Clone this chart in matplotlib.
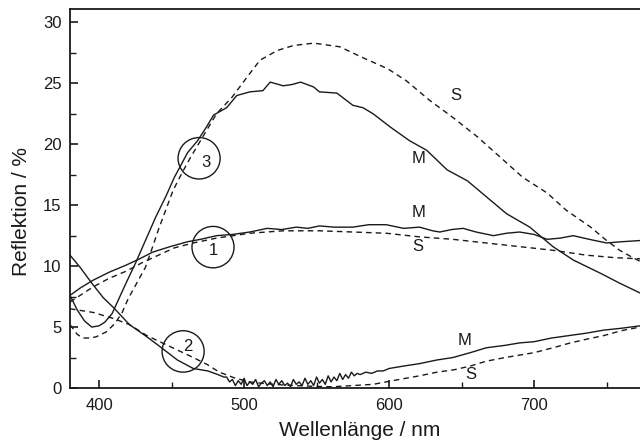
import matplotlib
matplotlib.use("Agg")
import matplotlib.pyplot as plt
from matplotlib.patches import Ellipse

plt.rcParams['font.family'] = ['Liberation Sans', 'DejaVu Sans']

# Curve 1 (M solid, S dashed)
m1_x = [380, 387, 396, 407, 419, 428, 437, 449, 461, 470, 481, 492, 504, 516, 526, 536, 544, 552,
        562, 575, 586, 598, 610, 621, 630, 635, 643, 651, 660, 672, 681, 690, 700, 709, 718, 727,
        738, 750, 760, 773]
m1_y = [7.6, 8.2, 8.85, 9.5, 10.1, 10.6, 11.15, 11.6, 12.0, 12.2, 12.5, 12.6, 12.8, 13.1, 13.0, 13.2,
        13.1, 13.3, 13.2, 13.2, 13.4, 13.4, 13.1, 13.2, 12.9, 12.8, 13.0, 13.1, 12.8, 12.5, 12.7, 12.8,
        12.6, 12.2, 12.3, 12.5, 12.2, 11.9, 12.0, 12.1]
s1_x = [380, 387, 396, 407, 419, 430, 441, 452, 465, 481, 504, 527, 552, 575, 598, 621, 644, 667,
        690, 713, 736, 755, 773]
s1_y = [7.05, 7.6, 8.3, 9.0, 9.6, 10.3, 10.9, 11.5, 11.9, 12.3, 12.7, 12.9, 12.9, 12.8, 12.7, 12.4,
        12.2, 11.9, 11.6, 11.3, 10.9, 10.7, 10.6]

# Curve 2
m2_x = [380, 387, 395, 403, 410, 421, 433, 442, 454, 465, 475, 482, 486,
        488, 490, 492, 494, 496, 498, 500, 502, 504, 506, 508, 510, 512, 514, 516, 518, 520,
        522, 524, 526, 528, 530, 532, 534, 536, 538, 540, 542, 544, 546, 548, 550, 552, 554,
        556, 558, 560, 562, 564, 566, 568, 570, 572, 574, 576, 578, 580, 584, 588, 592, 596,
        600, 610, 621, 633, 644, 656, 667, 680, 690, 700, 712, 724, 736, 748, 760, 773]
m2_y = [10.9, 9.9, 8.6, 7.4, 6.6, 5.2, 4.2, 3.4, 2.3, 1.6, 1.4, 1.1, 0.9,
        0.9, 0.5, 0.7, 0.2, 0.6, 0.3, 0.8, 0.2, 0.5, 0.3, 0.7, 0.1, 0.4, 0.6, 0.2, 0.5, 0.1,
        0.7, 0.3, 0.6, 0.2, 0.4, 0.1, 0.7, 0.3, 0.5, 0.2, 0.8, 0.3, 0.6, 0.2, 0.9, 0.4, 0.7,
        0.3, 1.0, 0.5, 0.9, 0.6, 1.2, 0.7, 1.1, 0.8, 1.3, 1.0, 1.2, 1.1, 1.3, 1.2, 1.4, 1.4,
        1.6, 1.8, 2.0, 2.3, 2.5, 2.9, 3.3, 3.5, 3.7, 3.8, 4.1, 4.3, 4.5, 4.75, 4.9, 5.1]
s2_x = [380, 396, 410, 421, 433, 449, 465, 475, 483, 494, 504, 515, 527, 545, 561, 575, 589, 598,
        607, 621, 633, 645, 656, 667, 680, 690, 700, 713, 725, 736, 748, 760, 773]
s2_y = [6.5, 6.2, 5.7, 5.2, 4.3, 3.4, 2.5, 1.9, 1.3, 0.8, 0.5, 0.35, 0.25, 0.15, 0.1, 0.2, 0.3, 0.5,
        0.7, 1.0, 1.3, 1.5, 1.8, 2.2, 2.5, 2.7, 2.9, 3.3, 3.7, 4.0, 4.3, 4.7, 5.0]

# Curve 3
m3_x = [380, 385, 390, 395, 400, 404, 409, 414, 419, 425, 432, 439, 446, 452, 457, 461, 468, 474,
        479, 488, 495, 504, 513, 518, 527, 533, 539, 548, 552, 564, 575, 582, 589, 601, 614, 626,
        640, 654, 661, 670, 681, 697, 713, 727, 746, 759, 773]
m3_y = [7.6, 6.4, 5.5, 5.0, 5.1, 5.4, 6.1, 7.4, 8.7, 10.2, 12.1, 14.0, 15.7, 17.3, 18.4, 19.3, 20.3,
        21.4, 22.4, 23.0, 24.0, 24.3, 24.4, 25.1, 24.8, 24.9, 25.1, 24.7, 24.3, 24.2, 23.2, 23.0, 22.5,
        21.4, 20.3, 19.5, 17.9, 17.0, 16.3, 15.4, 14.3, 13.2, 11.6, 10.5, 9.4, 8.6, 7.8]
s3_x = [380, 385, 389, 394, 398, 405, 411, 416, 420, 426, 432, 437, 441, 446, 451, 457, 463, 470,
        481, 492, 502, 511, 523, 534, 548, 566, 582, 599, 612, 628, 644, 661, 677, 692, 709, 722,
        739, 750, 759, 768, 773]
s3_y = [5.2, 4.4, 4.1, 4.1, 4.2, 4.6, 5.3, 6.2, 7.3, 8.6, 9.9, 11.6, 13.0, 14.6, 16.2, 17.6, 18.9,
        20.3, 22.5, 23.9, 25.5, 26.9, 27.7, 28.1, 28.3, 28.0, 27.1, 26.2, 25.2, 23.6, 22.2, 20.6, 18.9,
        17.3, 16.0, 14.6, 13.2, 12.1, 11.3, 10.7, 10.4]

# Annotations
curve_labels = ["S", "M", "M", "S", "M", "S"]
curve_label_x = [646, 620, 620, 620, 652, 656]
curve_label_y = [24.0, 18.8, 14.4, 11.6, 3.9, 1.1]
circle_nums = ["3", "1", "2"]
circle_cx = [469, 478.6, 458]
circle_cy = [18.85, 11.56, 3.0]
num_x = [474, 479, 461]
num_y = [18.5, 11.3, 3.4]

xticks = [400, 500, 600, 700]
yticks = [0, 5, 10, 15, 20, 25, 30]

fig = plt.figure(figsize=(6.4, 4.45), dpi=100)
ax = fig.add_axes([70/640, 57/445, 1 - 70/640, 379/445])

col = '#1a1a1a'
lw = 1.0
for xs, ys in [(m1_x, m1_y), (m2_x, m2_y), (m3_x, m3_y)]:
    ax.plot(xs, ys, color=col, lw=lw)
for xs, ys in [(s1_x, s1_y), (s2_x, s2_y), (s3_x, s3_y)]:
    ax.plot(xs, ys, color=col, lw=lw, linestyle=(0, (4, 3)))

for t, x, y in zip(curve_labels, curve_label_x, curve_label_y):
    ax.text(x, y, t, fontsize=12, ha='center', va='center', color=col)

for n, cx, cy, nx, ny in zip(circle_nums, circle_cx, circle_cy, num_x, num_y):
    ax.add_patch(Ellipse((cx, cy), width=29, height=3.4, fill=False, edgecolor=col, lw=1.0))
    ax.text(nx, ny, n, fontsize=12, ha='center', va='center', color=col)

ax.set_xlim(380, 773)
ax.set_ylim(0, 31.1)
ax.set_xticks(xticks)
ax.set_xticks([450, 550, 650, 750], minor=True)
ax.set_yticks(yticks)
ax.set_yticks([2.5, 7.5, 12.5, 17.5, 22.5, 27.5], minor=True)
ax.tick_params(axis='both', which='major', direction='in', length=6, width=1.2, labelsize=12,
               color=col, labelcolor=col)
ax.tick_params(axis='both', which='minor', direction='in', length=4, width=1.0, color=col)
ax.tick_params(axis='y', pad=6)
ax.tick_params(axis='x', pad=7)
for s in ['left', 'bottom', 'top']:
    ax.spines[s].set_linewidth(1.3)
    ax.spines[s].set_color(col)
ax.spines['right'].set_visible(False)

ax.set_xlabel('Wellenlänge / nm', fontsize=15, color=col)
ax.set_ylabel('Reflektion / %', fontsize=15, color=col)
ax.xaxis.set_label_coords((360 - 70) / 570, (388 - 430) / 379)
ax.yaxis.set_label_coords((22 - 70) / 570, (388 - 211) / 379)
for lab in (ax.xaxis.label, ax.yaxis.label):
    lab.set_va('center')

fig.savefig('out.png', dpi=100)
